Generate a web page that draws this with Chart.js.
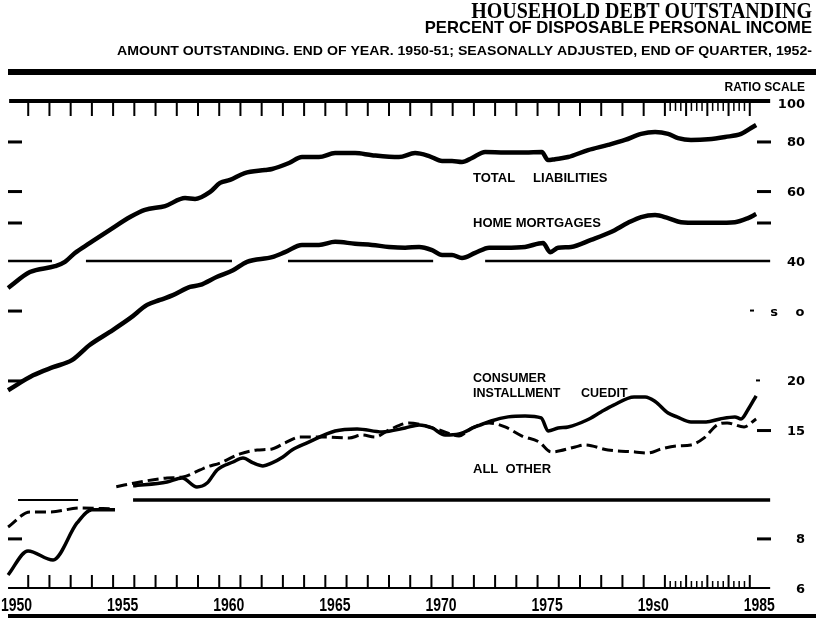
<!DOCTYPE html>
<html>
<head>
<meta charset="utf-8">
<title>Household Debt Outstanding</title>
<script src="https://cdn.jsdelivr.net/npm/chart.js@4.4.1/dist/chart.umd.min.js"></script>
<style>
  html, body { margin: 0; padding: 0; background: #fff; }
  #wrap { width: 816px; height: 620px; position: relative; }
</style>
</head>
<body>
<div id="wrap"><canvas id="debtChart"></canvas></div>
<script>
// values: years are positions on the time axis, values are percent of income
const tlYears = [1950.05, 1951.08, 1952.26, 1952.73, 1953.2, 1953.91, 1954.85, 1955.8, 1956.5, 1957.45, 1958.39, 1958.86, 1959.57, 1960.04, 1960.51, 1961.2, 1962.16, 1962.49, 1963.29, 1963.9, 1964.7, 1965.46, 1966.4, 1967.2, 1968.47, 1969.23, 1969.89, 1970.5, 1970.97, 1971.44, 1971.91, 1972.53, 1973.47, 1974.41, 1975.2, 1975.49, 1975.82, 1976.44, 1977.38, 1978.32, 1979.12, 1979.88, 1980.54, 1981.15, 1981.62, 1982.23, 1983.04, 1983.84, 1984.59, 1985.06, 1985.3];
const tlValues = [34.2, 37.5, 38.8, 39.8, 41.9, 44.4, 47.9, 51.6, 53.8, 55.0, 57.6, 57.3, 59.7, 62.9, 64.0, 66.6, 67.8, 68.2, 70.6, 73.1, 73.1, 74.8, 74.8, 73.9, 73.1, 74.8, 73.5, 71.4, 71.4, 71.0, 72.7, 75.3, 75.0, 75.0, 75.3, 71.8, 72.2, 73.1, 76.1, 78.4, 80.7, 83.6, 84.5, 83.6, 81.6, 80.7, 81.0, 82.1, 83.6, 86.5, 88.0];

const hmYears = [1950.05, 1951.23, 1952.17, 1953.06, 1953.91, 1954.85, 1955.8, 1956.6, 1957.21, 1957.82, 1958.62, 1959.1, 1959.9, 1960.65, 1961.31, 1962.49, 1963.1, 1963.9, 1964.7, 1965.46, 1966.4, 1967.2, 1968.0, 1968.76, 1969.42, 1970.03, 1970.5, 1970.97, 1971.44, 1972.06, 1972.72, 1973.47, 1974.41, 1975.26, 1975.59, 1975.97, 1976.58, 1977.52, 1978.46, 1979.26, 1979.88, 1980.54, 1981.15, 1981.76, 1982.56, 1983.36, 1984.3, 1984.92, 1985.3];
const hmValues = [18.9, 20.6, 21.6, 22.5, 24.6, 26.5, 28.7, 31.0, 31.9, 32.8, 34.4, 34.8, 36.5, 37.9, 39.8, 40.9, 42.1, 43.9, 43.9, 44.7, 44.2, 43.9, 43.4, 43.2, 43.4, 42.6, 41.4, 41.4, 40.7, 41.9, 43.2, 43.2, 43.4, 44.4, 42.1, 43.2, 43.4, 45.2, 47.3, 49.9, 51.6, 52.2, 51.3, 50.1, 49.9, 49.9, 50.1, 51.3, 52.5];

const cicYears = [1950.05, 1950.99, 1952.17, 1953.3, 1954.0, 1955.09, 1955.5, 1955.94, 1957.54, 1958.25, 1958.95, 1959.43, 1959.9, 1960.65, 1961.12, 1961.6, 1962.06, 1962.49, 1963.0, 1963.43, 1964.14, 1965.46, 1966.5, 1967.67, 1968.76, 1969.42, 1970.03, 1970.64, 1971.3, 1972.06, 1972.81, 1973.61, 1974.41, 1975.17, 1975.5, 1975.97, 1976.44, 1977.33, 1977.99, 1978.56, 1979.55, 1980.07, 1980.54, 1981.15, 1981.57, 1982.23, 1982.94, 1983.6, 1984.3, 1984.59, 1984.92, 1985.3];
const cicValues = [6.47, 7.44, 7.06, 8.75, 9.44, 9.44, null, 10.85, 11.10, 11.36, 10.78, 11.03, 11.90, 12.46, 12.76, 12.39, 12.18, 12.4, 12.83, 13.36, 13.92, 14.92, 15.10, 14.84, 15.18, 15.45, 15.18, 14.57, 14.66, 15.27, 15.81, 16.19, 16.28, 16.09, 14.92, 15.18, 15.27, 15.9, 16.66, 17.3, 18.17, 18.17, 17.7, 16.56, 16.19, 15.72, 15.72, 16.0, 16.19, 16.0, 16.9, 18.3];

const aoYears = [1950.05, 1951.08, 1952.03, 1953.44, 1955.05, 1955.1, 1955.15, 1956.27, 1957.54, 1958.29, 1959.1, 1959.43, 1960.04, 1960.98, 1961.78, 1962.49, 1963.1, 1963.81, 1964.99, 1966.12, 1966.73, 1967.34, 1968.0, 1968.94, 1969.56, 1970.36, 1971.3, 1971.91, 1972.72, 1973.47, 1974.27, 1975.07, 1975.64, 1976.77, 1977.24, 1978.32, 1979.59, 1980.21, 1980.82, 1981.57, 1982.23, 1982.85, 1983.46, 1983.93, 1984.73, 1985.3];
const aoValues = [8.55, 9.33, 9.33, 9.54, 9.49, null, 10.8, 11.10, 11.36, 11.43, 11.90, 12.11, 12.39, 13.06, 13.36, 13.44, 13.92, 14.41, 14.41, 14.33, 14.57, 14.41, 15.01, 15.63, 15.45, 15.01, 14.49, 15.18, 15.63, 15.27, 14.49, 14.0, 13.21, 13.60, 13.76, 13.36, 13.21, 13.13, 13.44, 13.68, 13.76, 14.33, 15.45, 15.63, 15.27, 16.0];

// broken reference lines at 40 and 10
const line40Starts = [1950.05, 1953.72, 1963.24, 1972.53];
const line40Ends = [1952.12, 1960.6, 1970.08, 1985.96];
const line10Short = [1950.52, 1953.35];
const line10Long = [1955.94, 1985.96];

const yearTicks = [1951, 1952, 1953, 1954, 1955, 1956, 1957, 1958, 1959, 1960, 1961, 1962, 1963, 1964, 1965, 1966, 1967, 1968, 1969, 1970, 1971, 1972, 1973, 1974, 1975, 1976, 1977, 1978, 1979, 1980, 1981, 1982, 1983, 1984, 1985];
const quarterTickYears = [1981, 1982, 1983, 1984];
const yearLabels = ['1950', '1955', '1960', '1965', '1970', '1975', '19s0', '1985'];
const yearLabelAt = [1950, 1955, 1960, 1965, 1970, 1975, 1980, 1985];
const rightLabels = ['100', '80', '60', '40', '20', '15', '8', '6'];
const rightLabelAt = [100, 80, 60, 40, 20, 15, 8, 6];
const leftDashAt = [80, 60, 50, 30, 20, 8];
const rightDashAt = [80, 60, 50, 15, 8];

function points(years, values) {
    return years.map((t, i) => ({ x: t, y: values[i] }));
}

function segments(starts, ends, level) {
    const out = [];
    starts.forEach((s, i) => {
        if (i > 0) out.push({ x: (ends[i - 1] + s) / 2, y: null });
        out.push({ x: s, y: level }, { x: ends[i], y: level });
    });
    return out;
}

function drawText(ctx, str, x, y, font, align, sx, sy) {
    ctx.save();
    ctx.translate(x, y);
    ctx.scale(sx || 1, sy || 1);
    ctx.font = font;
    ctx.textAlign = align || 'left';
    ctx.textBaseline = 'alphabetic';
    ctx.fillText(str, 0, 0);
    ctx.restore();
}

const decorations = {
    id: 'decorations',
    afterDraw(chart) {
        const ctx = chart.ctx;
        const X = t => chart.scales.x.getPixelForValue(t);
        const Y = v => chart.scales.y.getPixelForValue(v);
        ctx.save();
        ctx.fillStyle = '#000';
        ctx.strokeStyle = '#000';

        // heading
        drawText(ctx, 'HOUSEHOLD DEBT OUTSTANDING', 812, 18, 'bold 20px "Liberation Serif"', 'right', 1, 1.15);
        drawText(ctx, 'PERCENT OF DISPOSABLE PERSONAL INCOME', 812, 33, 'bold 16.6px "Liberation Sans"', 'right');
        const sub = 'AMOUNT OUTSTANDING. END OF YEAR. 1950-51; SEASONALLY ADJUSTED, END OF QUARTER, 1952-';
        const subFont = 'bold 12.5px "Liberation Sans"';
        ctx.font = subFont;
        const subW = ctx.measureText(sub).width;
        drawText(ctx, sub, 812, 55, subFont, 'right', 695 / subW, 1);

        ctx.fillRect(8, 69, 808, 6);
        ctx.fillRect(8, 614, 808, 4);
        drawText(ctx, 'RATIO SCALE', 805, 91, 'bold 12px "Liberation Sans"', 'right');

        // top ratio bar and bottom axis line
        const top = Y(100), bot = Y(6);
        ctx.fillRect(X(1950.1), top - 4, X(1985.96) - X(1950.1), 4);
        ctx.fillRect(X(1950.05), bot - 1, X(1985.96) - X(1950.05), 2);

        ctx.lineWidth = 2;
        yearTicks.forEach(yr => {
            const px = X(yr);
            ctx.beginPath();
            ctx.moveTo(px, top); ctx.lineTo(px, top + 13);
            ctx.moveTo(px, bot); ctx.lineTo(px, bot - 13);
            ctx.stroke();
        });
        ctx.lineWidth = 1.5;
        quarterTickYears.forEach(yr => {
            [0.25, 0.5, 0.75].forEach(q => {
                const px = X(yr + q);
                ctx.beginPath();
                ctx.moveTo(px, top); ctx.lineTo(px, top + 8);
                ctx.moveTo(px, bot); ctx.lineTo(px, bot - 7);
                ctx.stroke();
            });
        });

        yearLabels.forEach((lab, i) => {
            drawText(ctx, lab, X(yearLabelAt[i] + 0.45), 611, 'bold 14px "Liberation Sans"', 'center', 1, 1.25);
        });

        // scale dashes on both sides
        leftDashAt.forEach(v => ctx.fillRect(8, Y(v) - 1, 14, 3));
        rightDashAt.forEach(v => ctx.fillRect(757, Y(v) - 1, 14, 3));
        ctx.fillRect(750, Y(30) - 1, 4, 2);
        ctx.fillRect(756, Y(20) - 1, 4, 2);

        rightLabels.forEach((lab, i) => {
            drawText(ctx, lab, 805, Y(rightLabelAt[i]) + 5, 'bold 13px "DejaVu Sans"', 'right');
        });
        drawText(ctx, 's', 774, Y(30) + 5, 'bold 13px "DejaVu Sans"', 'center');
        drawText(ctx, 'o', 800, Y(30) + 5, 'bold 13px "DejaVu Sans"', 'center');

        // series names
        const f = 'bold 13px "Liberation Sans"';
        const f2 = 'bold 12.5px "Liberation Sans"';
        drawText(ctx, 'TOTAL', X(1971.96), Y(63.2), f, 'left');
        drawText(ctx, 'LIABILITIES', X(1974.79), Y(63.2), f, 'left');
        drawText(ctx, 'HOME MORTGAGES', X(1971.96), Y(48.7), f, 'left');
        drawText(ctx, 'CONSUMER', X(1971.96), Y(19.8), f2, 'left');
        drawText(ctx, 'INSTALLMENT', X(1971.96), Y(18.2), f2, 'left');
        drawText(ctx, 'CUEDIT', X(1977.05), Y(18.2), f2, 'left');
        drawText(ctx, 'ALL  OTHER', X(1971.96), Y(11.7), f, 'left');
        ctx.restore();
    }
};

const lineBase = { borderColor: '#000', pointRadius: 0, fill: false, cubicInterpolationMode: 'monotone', borderJoinStyle: 'round', clip: false };

new Chart(document.getElementById('debtChart'), {
    type: 'line',
    data: {
        datasets: [
            { ...lineBase, cubicInterpolationMode: 'default', tension: 0, label: 'Ref 40', data: segments(line40Starts, line40Ends, 40), borderWidth: 2.5 },
            { ...lineBase, cubicInterpolationMode: 'default', tension: 0, label: 'Ref 10 short', data: segments([line10Short[0]], [line10Short[1]], 10), borderWidth: 2 },
            { ...lineBase, cubicInterpolationMode: 'default', tension: 0, label: 'Ref 10', data: segments([line10Long[0]], [line10Long[1]], 10), borderWidth: 3.5 },
            { ...lineBase, label: 'Total liabilities', data: points(tlYears, tlValues), borderWidth: 4.5 },
            { ...lineBase, label: 'Home mortgages', data: points(hmYears, hmValues), borderWidth: 4.5 },
            { ...lineBase, label: 'Consumer installment credit', data: points(cicYears, cicValues), borderWidth: 3.5 },
            { ...lineBase, label: 'All other', data: points(aoYears, aoValues), borderWidth: 3, borderDash: [11, 5] }
        ]
    },
    options: {
        responsive: true,
        maintainAspectRatio: false,
        animation: false,
        layout: { padding: { left: 7, right: 45, top: 103, bottom: 32 } },
        scales: {
            x: { type: 'linear', min: 1950, max: 1986, display: false },
            y: { type: 'logarithmic', min: 6, max: 100, display: false }
        },
        plugins: {
            legend: { display: false },
            tooltip: { enabled: false }
        }
    },
    plugins: [decorations]
});
</script>
</body>
</html>
